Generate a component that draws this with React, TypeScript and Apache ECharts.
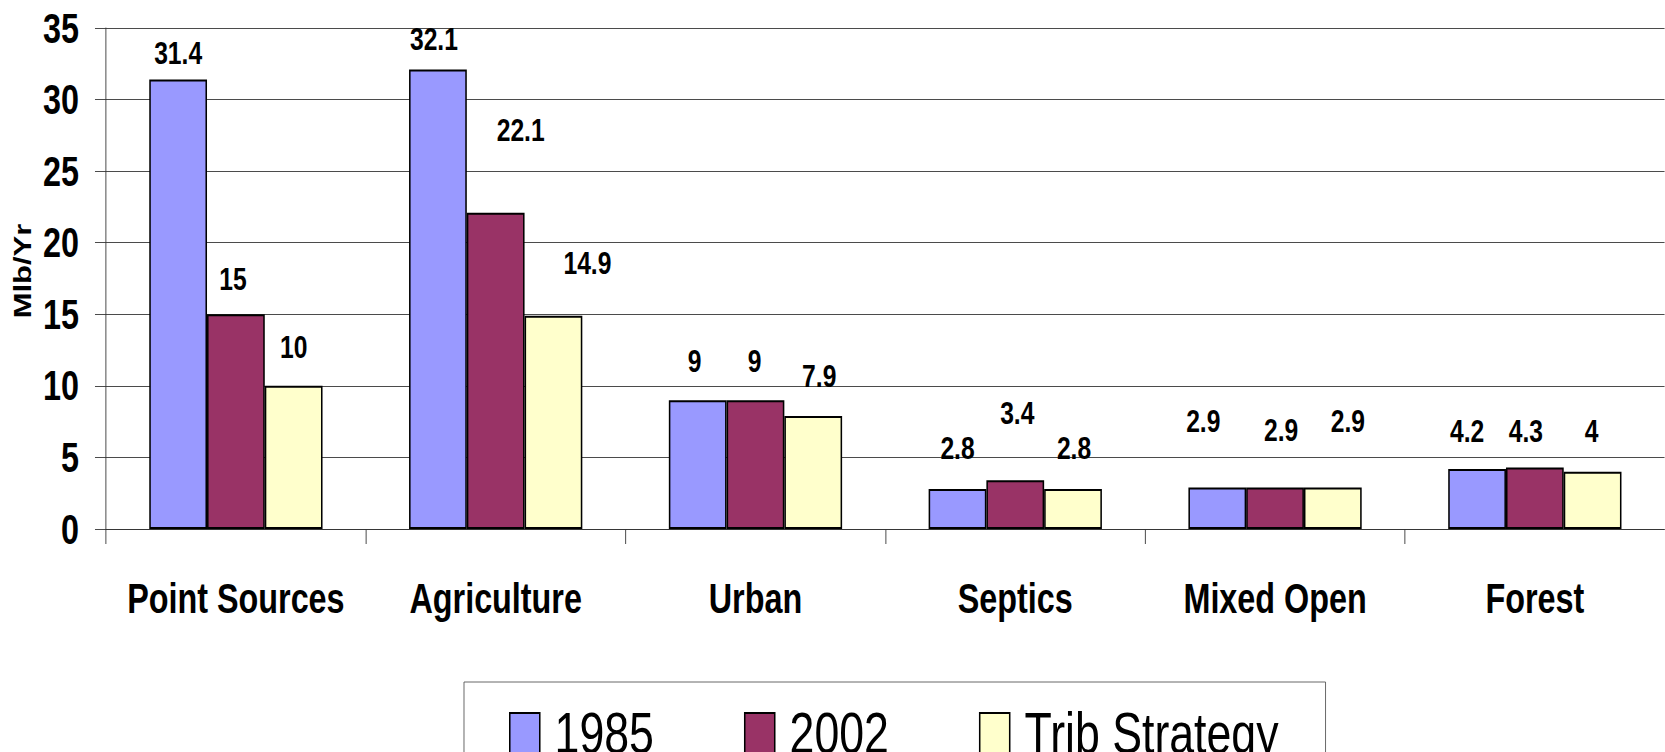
import React, { useEffect, useRef } from "react";
import * as echarts from "echarts";

const categories = ["Point Sources", "Agriculture", "Urban", "Septics", "Mixed Open", "Forest"];
const seriesNames = ["1985", "2002", "Trib Strategy"];
const values1985 = [31.4, 32.1, 9, 2.8, 2.9, 4.2];
const values2002 = [15, 22.1, 9, 3.4, 2.9, 4.3];
const valuesTrib = [10, 14.9, 7.9, 2.8, 2.9, 4];
const yTicks = { min: 0, max: 35, interval: 5 };
const yAxisTitle = "Mlb/Yr";

// label placement (layout only, page px): [dx, height of label centre above bar top]
const labelPlacement = [
  [[0, 27], [-4, 31], [-3, 39], [0, 41], [-14, 67], [-10, 38]],
  [[-3, 36], [25, 83], [-1, 39], [2, 68], [6, 58], [-9, 37]],
  [[0, 39], [34, 53], [6, 40], [1, 41], [15, 67], [-1, 41]],
];

const colors = ["#9999FF", "#993366", "#FFFFCC"];
const FONT = "'Liberation Sans', Arial, sans-serif";
// the reference is horizontally compressed; render wider and squeeze with CSS
const S = 0.77;
const PAGE_W = 1665;
const PAGE_H = 752;
const W = PAGE_W / S;
const px = (v: number) => v / S;

export default function App() {
  const ref = useRef<HTMLDivElement>(null);
  useEffect(() => {
    if (!ref.current) return;
    const chart = echarts.init(ref.current, null, { renderer: "svg" });
    const all = [values1985, values2002, valuesTrib];
    const LH = 32;
    const series = all.map((vals, si) => ({
      name: seriesNames[si],
      type: "bar",
      barGap: "0%",
      barCategoryGap: "33.3%",
      itemStyle: { color: colors[si], borderColor: "#000", borderWidth: 2 },
      data: vals.map((v, i) => ({
        value: v,
        label: {
          show: true,
          position: "top",
          distance: 0,
          offset: [px(labelPlacement[si][i][0]), -(labelPlacement[si][i][1] - LH / 2)],
          fontFamily: FONT,
          fontWeight: "bold",
          fontSize: 32,
          lineHeight: LH,
          color: "#000",
        },
      })),
    }));
    chart.setOption({
      animation: false,
      grid: { left: px(106), top: 28, width: px(1566), height: 501, containLabel: false },
      xAxis: {
        type: "category",
        data: categories,
        axisLine: { lineStyle: { color: "#333", width: 1 } },
        axisTick: { show: true, length: 15, lineStyle: { color: "#333" } },
        axisLabel: {
          margin: 48,
          fontFamily: FONT,
          fontWeight: "bold",
          fontSize: 42,
          lineHeight: 42,
          color: "#000",
          interval: 0,
        },
      },
      yAxis: {
        type: "value",
        min: yTicks.min,
        max: yTicks.max,
        interval: yTicks.interval,
        axisLine: { show: true, lineStyle: { color: "#333", width: 1 } },
        axisTick: { show: true, length: px(11), lineStyle: { color: "#333" } },
        splitLine: { lineStyle: { color: "#333", width: 1 } },
        axisLabel: {
          margin: px(27),
          fontFamily: FONT,
          fontWeight: "bold",
          fontSize: 42,
          color: "#000",
        },
      },
      legend: {
        data: seriesNames,
        left: px(464),
        top: 682,
        orient: "horizontal",
        padding: [22, px(47), 40, px(45)],
        borderColor: "#555",
        borderWidth: 1,
        itemWidth: px(30),
        itemHeight: 40,
        itemGap: px(90),
        icon: "rect",
        selectedMode: false,
        textStyle: {
          fontFamily: FONT,
          fontSize: 58,
          lineHeight: 44,
          color: "#000",
          padding: [0, 0, 0, px(11)],
        },
      },
      graphic: [
        {
          type: "text",
          x: px(23),
          y: 271,
          rotation: Math.PI / 2,
          style: {
            text: yAxisTitle,
            fontFamily: FONT,
            fontWeight: "bold",
            fontSize: 31,
            fill: "#000",
            textAlign: "center",
            textVerticalAlign: "middle",
            align: "center",
            verticalAlign: "middle",
          },
        },
      ],
      series,
    });
    return () => chart.dispose();
  }, []);
  return (
    <div style={{ position: "absolute", left: 0, top: 0, width: PAGE_W, height: PAGE_H, overflow: "hidden", background: "#fff" }}>
      <div
        ref={ref}
        style={{
          position: "absolute",
          left: 0,
          top: 0,
          width: W,
          height: PAGE_H,
          transform: `scaleX(${S})`,
          transformOrigin: "0 0",
        }}
      />
    </div>
  );
}
